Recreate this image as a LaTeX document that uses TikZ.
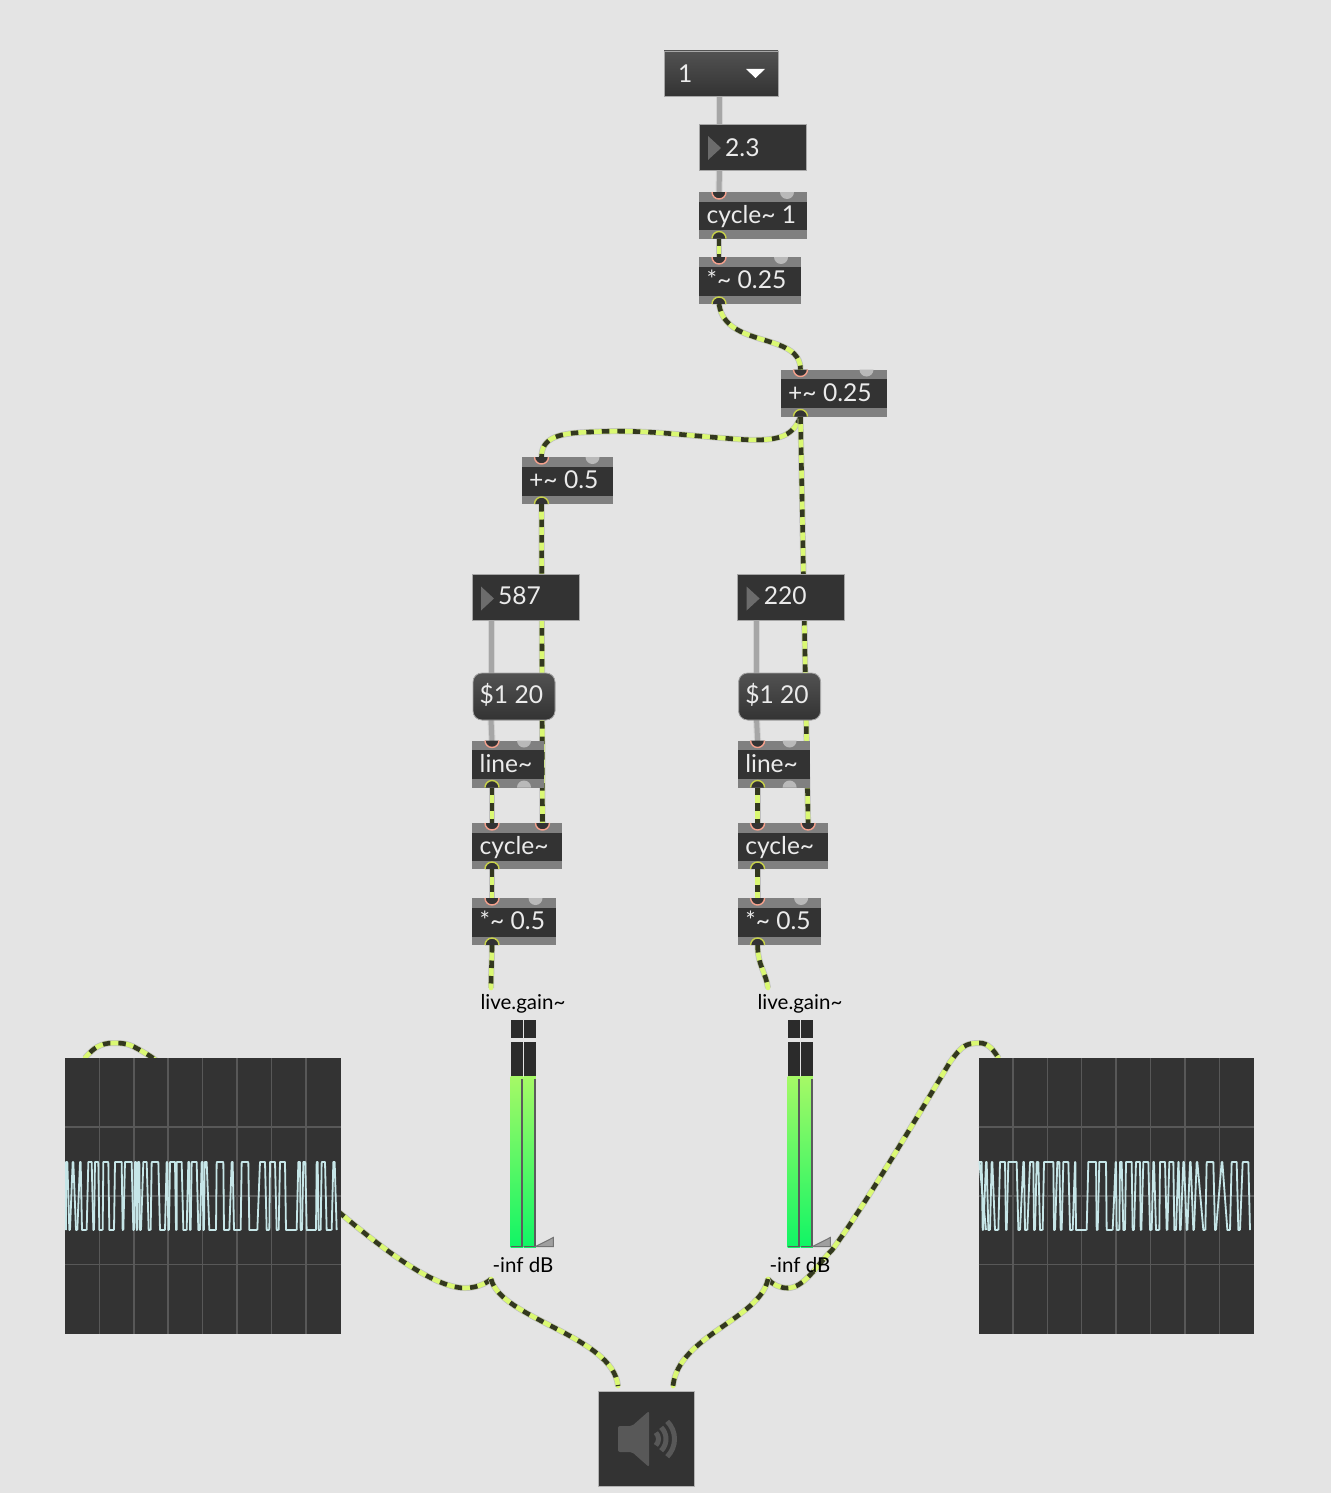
\documentclass[tikz,border=0pt]{standalone}
\usepackage{fontspec}
\setmainfont{Lato}
\usetikzlibrary{calc}
\pgfdeclarelayer{backdrop}
\pgfdeclarelayer{wires}
\pgfsetlayers{backdrop,wires,main}

\definecolor{patchbg}{HTML}{E4E4E4}
\definecolor{objdark}{HTML}{333333}
\definecolor{objgray}{HTML}{808080}
\definecolor{sigyellow}{HTML}{DAF873}
\definecolor{sigdark}{HTML}{33381F}
\definecolor{gridgray}{HTML}{585858}
\definecolor{wavecol}{HTML}{C6E6E8}
\definecolor{hotcol}{HTML}{F4A08C}
\definecolor{outcol}{HTML}{C8D24A}
\definecolor{metertop}{HTML}{A6F966}
\definecolor{meterbot}{HTML}{10F565}

\def\portr{7}
\def\wavetop{1162}
\def\wavebot{1230}
\def\wavel{48/52/58/60,68/70/78/82,90/92/96/110,115/125/130/132,135/145/148/158,160/175/178/192,195/215/218/220,225/245/250/252,255/258/260/262,264/268/270/273,280/290/296/302,305/325/330/345,350/352/355/357,360/375/378/380,380/395/400/410,415/418/420/422,425/440/445/450,455/458/460/462,464/470/478/498,500/520/522/538,545/548/552/572,575/595/598/622,630/645/650/658,660/675/680/686,690/705/708/740,745/750/752/756,760/766/770/798,800/803/806/812,815/825/830/845,850/854/860/860}
\def\waver{28/35/38/40,48/50/55/60,65/67/75/85,90/105/108/110,115/140/145/150,160/162/165/172,180/190/192/195,200/205/210/218,222/250/252/255,262/268/272/275,280/295/300/308,315/316/318/350,355/378/380/383,388/408/410/428,437/438/440/448,450/455/460/465,468/485/488/492,498/510/512/514,520/535/540/545,550/552/558/568,570/585/590/592,598/610/613/618,625/626/630/632,640/642/650/652,660/662/670/672,680/682/700/706,710/730/735/738,755/757/772/780,785/800/805/810,818/835/840/840}

\tikzset{
  objbox/.style={rectangle,inner sep=0pt,outer sep=0pt,anchor=north west,fill=objgray},
  uibox/.style={objbox,fill=objdark,draw=gray!70,line width=0.8pt},
  objtext/.style={inner sep=0pt,anchor=base west,text=white!92!black,font=\fontsize{24.6}{29}\selectfont},
  gaintext/.style={inner sep=0pt,text=black,font=\fontsize{20.5}{24}\selectfont},
  sigwire/.style={line width=4.6pt,draw=sigyellow,line cap=round,
    preaction={draw=gray!50,line width=6pt},
    postaction={draw=sigdark,line cap=butt,dash pattern=on 7.5pt off 8pt}},
  ctlwire/.style={line width=5pt,draw=gray!70,line cap=round,
    preaction={draw=gray!35,line width=7pt}},
  hotin/.style={fill=objdark,draw=hotcol,line width=1.4pt},
  sigout/.style={fill=objdark,draw=outcol,line width=1.4pt},
  coldport/.style={fill=gray!55},
  wave/.style={draw=wavecol,line width=1.8pt,line join=round}
}

% signal object with strips and ports: name, x, y, w, h, text
\newcommand{\objsig}[6]{%
  \node[objbox,minimum width=#4pt,minimum height=#5pt] (#1) at (#2,#3) {};
  \fill[objdark] (#2,#3+9.5) rectangle (#2+#4,#3+#5-8.5);
  \node[objtext] (#1-txt) at (#2+7.5,#3+#5/2+8) {#6};
  \coordinate (#1-in) at (#2+20,#3);
  \coordinate (#1-out) at (#2+20,#3+#5);
  \coordinate (#1-cold) at (#2+#4-20,#3);
  \hotport{#1-in}
  \filldraw[sigout] ([xshift=-\portr pt]#1-out) arc (180:0:\portr pt);
}
\newcommand{\hotport}[1]{\filldraw[hotin] ([xshift=-\portr pt]#1) arc (180:360:\portr pt);}
\newcommand{\coldin}[1]{\fill[coldport] ([xshift=-\portr pt]#1) arc (180:360:\portr pt);}

% number box: name, x, y, text baseline, text
\newcommand{\numbox}[5]{%
  \node[uibox,minimum width=107pt,minimum height=46pt] (#1) at (#2,#3) {};
  \fill[gray!85!black] (#2+9,#3+12) -- (#2+22,#3+24) -- (#2+9,#3+36) -- cycle;
  \node[objtext] (#1-txt) at (#2+26,#4) {#5};
}

% scope trace: x offset, list of top and bottom runs
\newcommand{\drawwave}[2]{%
  \begin{scope}[shift={(#1,0)},x=0.33333pt]
    \foreach \ta/\tb/\ba/\bb [remember=\bb as \lastb (initially 48)] in #2
      \draw[wave] (\lastb,\wavebot) -- (\ta,\wavetop) -- (\tb,\wavetop) -- (\ba,\wavebot) -- (\bb,\wavebot);
  \end{scope}
}

\begin{document}
\begin{tikzpicture}[x=1pt,y=-1pt]
\useasboundingbox (0,0) rectangle (1331,1493);
\begin{pgfonlayer}{backdrop}
  \fill[patchbg] (0,0) rectangle (1331,1493);
\end{pgfonlayer}

% top chain
\node[uibox,top color=objdark!85!white,bottom color=objdark,minimum width=114pt,minimum height=45pt] (menu) at (664,51) {};
\node[objtext] (menu-txt) at (678,83) {1};
\fill[white] (746,69) -- (765,69) -- (755.5,78) -- cycle;
\numbox{rate}{699}{124}{157}{2.3}
\objsig{lfo}{699}{192}{108}{46.5}{cycle\textasciitilde{} 1}
\coldin{lfo-cold}
\objsig{depth}{699}{257}{102}{47}{*\textasciitilde{} 0.25}
\coldin{depth-cold}
\objsig{offset}{780.5}{369.5}{106}{47}{+\textasciitilde{} 0.25}
\coldin{offset-cold}
\objsig{ratio}{521.5}{457}{91}{47}{+\textasciitilde{} 0.5}
\coldin{ratio-cold}

\begin{pgfonlayer}{wires}
  \draw[ctlwire] (719.5,96) -- (719.5,124);
  \draw[ctlwire] (719.5,170) -- (lfo-in);
  \draw[sigwire] (lfo-out) -- (depth-in);
  \draw[sigwire] (depth-out) .. controls +(6,45) and +(0,-38) .. (offset-in);
  \draw[sigwire] (offset-out) .. controls +(-8,22) and +(40,3) .. (735,439) .. controls +(-55,-4) and +(50,-3) .. (590,432) .. controls +(-30,1) and +(0,-20) .. (ratio-in);
\end{pgfonlayer}

% the two voices
\foreach \v/\sx/\freq in {l/0/587,r/265.6/220}{
  \begin{scope}[shift={(\sx,0)}]
    \numbox{\v-num}{472}{574.5}{604.5}{\freq}
    \node[uibox,rounded corners=9pt,top color=objdark!85!white,bottom color=objdark,minimum width=82pt,minimum height=47pt] (\v-msg) at (473,673) {};
    \node[objtext] (\v-msg-txt) at (479.5,703) {\$1 20};
    \objsig{\v-line}{472}{740.5}{72}{47}{line\textasciitilde}
    \coldin{\v-line-cold}
    \fill[coldport] (\v-line-cold |- \v-line-out) ++(-\portr,0) arc (180:0:\portr pt);
    \objsig{\v-cyc}{472}{823}{90}{46}{cycle\textasciitilde}
    \coordinate (\v-cyc-in2) at (542.5,823);
    \hotport{\v-cyc-in2}
    \objsig{\v-amp}{472}{898}{83.5}{47}{*\textasciitilde{} 0.5}
    \coldin{\v-amp-cold}
    \begin{pgfonlayer}{wires}
      \draw[ctlwire] (491,621) -- (491,673);
      \draw[ctlwire] (491,720) -- (\v-line-in);
      \draw[sigwire] (\v-line-out) -- (\v-cyc-in);
      \draw[sigwire] (\v-cyc-out) -- (\v-amp-in);
    \end{pgfonlayer}
  \end{scope}
}
\begin{pgfonlayer}{wires}
  \draw[sigwire] (ratio-out) -- (l-cyc-in2);
  \draw[sigwire] (offset-out) -- (r-cyc-in2);
\end{pgfonlayer}

% meters
\foreach \v/\gx in {l/0,r/277}{
  \begin{scope}[shift={(\gx,0)}]
    \node[gaintext] (\v-gain) at (523,1003.5) {live.gain\textasciitilde};
    \coordinate (\v-gain-in) at (491,988);
    \coordinate (\v-gain-out) at (491,1279);
    \foreach \mx in {510.7,523.7}{
      \fill[objdark!85!black] (\mx,1020) rectangle (\mx+12.2,1038);
      \fill[objdark!85!black] (\mx,1042) rectangle (\mx+12.2,1076);
      \shade[top color=metertop,bottom color=meterbot] (\mx,1076) rectangle (\mx+12.2,1247);
      \fill[objdark!80] (\mx+10.5,1079) rectangle (\mx+12.2,1247);
      \fill[objdark!80] (\mx,1246) rectangle (\mx+12.2,1247.2);
    }
    \filldraw[fill=gray!75,draw=gray!90!black,line width=1pt] (535.5,1246.5) -- (553.3,1237.5) -- (553.3,1246.5) -- cycle;
    \node[gaintext] (\v-db) at (523,1265.5) {-inf dB};
  \end{scope}
}

% scopes
\foreach \sn/\sx in {scopel/65,scoper/978.5}{
  \node[objbox,fill=objdark,minimum width=275.5pt,minimum height=275.5pt] (\sn) at (\sx,1058) {};
  \coordinate (\sn-in) at (\sx+20,1058);
  \foreach \gi in {1,...,7}
    \draw[gridgray,line width=1.5pt] (\sx+\gi*34.4,1058) -- (\sx+\gi*34.4,1333.5);
  \foreach \gi in {1,2,3}
    \draw[gridgray,line width=1.5pt] (\sx,1058+\gi*68.9) -- (\sx+275.5,1058+\gi*68.9);
}
\drawwave{50}{\wavel}
\drawwave{970}{\waver}

% speaker
\node[objbox,fill=objdark,draw=gray!60,line width=0.6pt,minimum width=96pt,minimum height=95.5pt] (spk) at (598,1391) {};
\coordinate (spk-inl) at (618,1386);
\coordinate (spk-inr) at (673,1386);
\coordinate (spk-c) at (649.5,1439);
\fill[gridgray,rounded corners=2pt] (618,1426) -- (632,1426) -- (649,1411) -- (649,1467) -- (632,1452) -- (618,1452) -- cycle;
\foreach \r in {9,16.5,25}
  \draw[gridgray,line width=5pt] ([shift={(-45:\r pt)}]spk-c) arc (-45:45:\r pt);

\begin{pgfonlayer}{wires}
  \draw[sigwire] (l-amp-out) .. controls +(0,15) and +(0,-15) .. (l-gain-in);
  \draw[sigwire] (r-amp-out) .. controls +(0,20) and +(-2,-15) .. (r-gain-in);
  \draw[sigwire] (l-gain-out) .. controls +(-5,5) and +(10,0) .. (465,1288) .. controls +(-35,0) and +(30,25) .. (340,1213) .. controls +(-50,-40) and +(30,20) .. (150,1056) .. controls +(-20,-12) and +(15,0) .. (113,1043) .. controls +(-12,0) and +(8,-10) .. (scopel-in);
  \draw[sigwire] (r-gain-out) .. controls +(5,6) and +(-8,0) .. (788,1288) .. controls +(16,0) and +(-14,14) .. (832,1250) .. controls +(30,-40) and +(-28,47) .. (950,1062) .. controls +(12,-16) and +(-15,0) .. (980,1043) .. controls +(8,0) and +(-5,-8) .. (scoper-in);
  \draw[sigwire] (l-gain-out) .. controls +(10,40) and +(-5,-50) .. (spk-inl);
  \draw[sigwire] (r-gain-out) .. controls +(-8,40) and +(5,-50) .. (spk-inr);
\end{pgfonlayer}
\end{tikzpicture}
\end{document}
